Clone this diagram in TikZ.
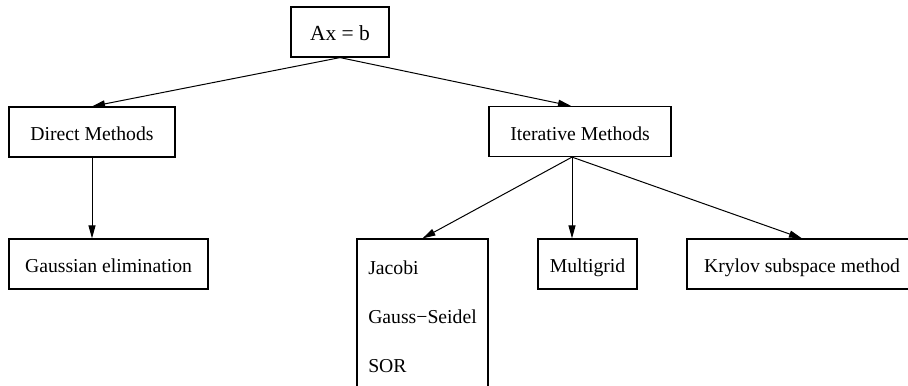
\documentclass[tikz,border=0pt]{standalone}
\usepackage{fontspec}
\setmainfont{Liberation Serif}
\usetikzlibrary{arrows.meta}

\begin{document}
\begin{tikzpicture}
  [x=0.5pt,y=-0.5pt,>={Triangle[length=6.5pt,width=3.5pt]},
   every node/.style={draw,rectangle,inner sep=0pt,minimum height=25pt,
     text height=8.8pt,text depth=0pt,
     line width=0.6pt,font=\fontsize{9.85pt}{12pt}\selectfont}]
  \useasboundingbox (0,0) rectangle (908,385);
  \node[minimum width=49pt,font=\fontsize{10.75pt}{13pt}\selectfont] (ax) at (340,32) {Ax = b};
  \node[minimum width=83pt] (direct) at (92,132) {Direct Methods};
  \node[minimum width=91pt] (iter) at (580,131.5) {Iterative Methods};
  \node[minimum width=99.5pt] (gauss) at (108.5,264) {Gaussian elimination};
  \node[minimum width=65.5pt,minimum height=78pt,align=left,text height=,text depth=,
        font=\fontsize{9.85pt}{24.5pt}\selectfont] (jac) at (422.5,317) {Jacobi\\Gauss−Seidel\\SOR};
  \node[minimum width=49.5pt] (multi) at (587.5,264) {Multigrid};
  \node[minimum width=115pt] (krylov) at (802,264) {Krylov subspace method};

  \coordinate (itop) at ([xshift=-4.5pt]iter.north);
  \coordinate (ibot) at ([xshift=-4pt]iter.south);

  \foreach \from/\to in {ax.south/direct.north, ax.south/itop, direct.south/direct.south |- gauss.north,
      ibot/jac.north, ibot/ibot |- multi.north, ibot/krylov.north}
    \draw[->,line width=0.5pt] (\from) -- (\to);
\end{tikzpicture}
\end{document}
